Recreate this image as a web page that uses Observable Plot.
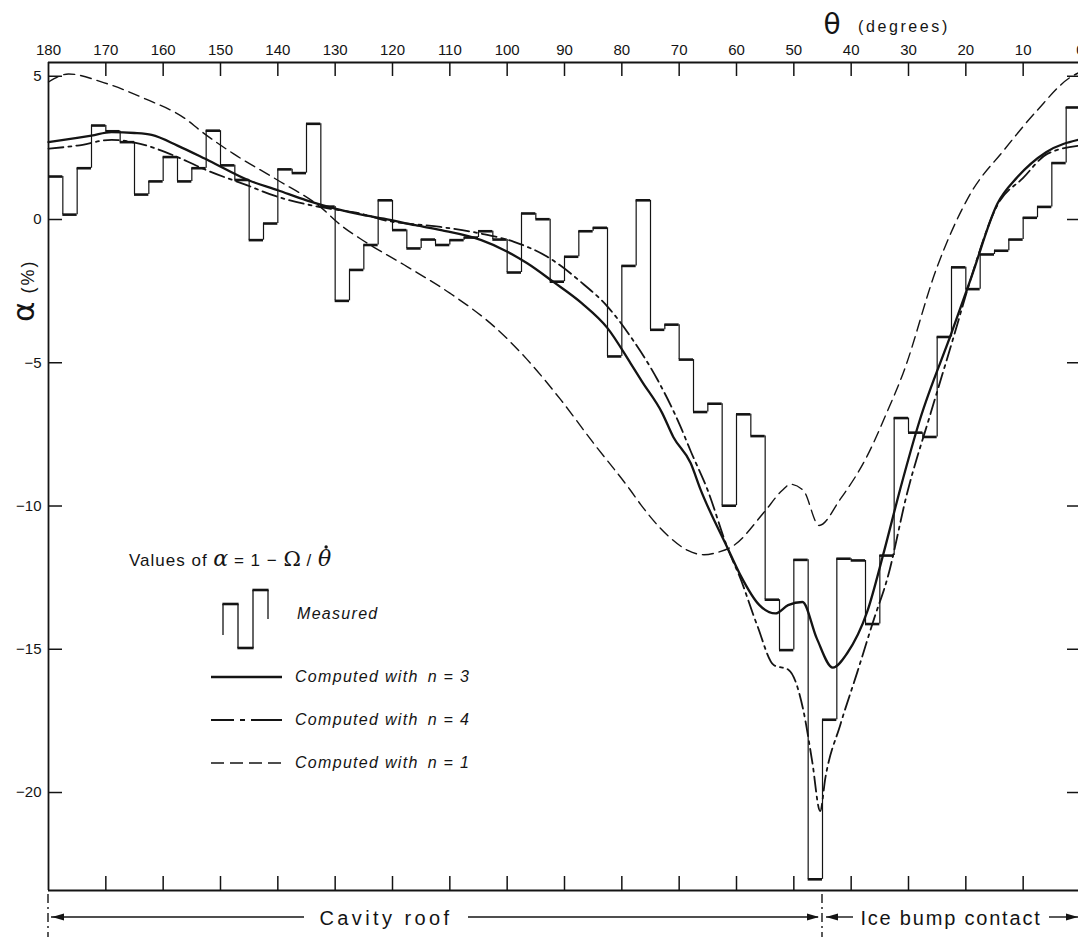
<!DOCTYPE html>
<html>
<head>
<meta charset="utf-8">
<script src="https://cdn.jsdelivr.net/npm/d3@7"></script>
<script src="https://cdn.jsdelivr.net/npm/@observablehq/plot@0.6"></script>
<style>
  html, body { margin: 0; padding: 0; background: #fff; }
  #chart { position: relative; width: 1078px; height: 937px; overflow: hidden; }
  #chart svg { display: block; }
</style>
</head>
<body>
<div id="chart"></div>
<script>
// ---------------- data ----------------
// measured alpha (%) in 2.5-degree bins, starting at theta = 180 and going to 0
const binStartTheta = 180;
const binWidthDeg = 2.5;
const measuredAlpha = [
  1.50, 0.17, 1.79, 3.28, 3.08, 2.70, 0.87, 1.33, 2.18, 1.33,
  1.79, 3.10, 1.89, 1.38, -0.72, -0.14, 1.75, 1.62, 3.34, 0.45,
  -2.84, -1.76, -0.89, 0.67, -0.37, -1.01, -0.70, -0.89, -0.72, -0.63,
  -0.41, -0.70, -1.85, 0.21, 0.01, -2.17, -1.30, -0.41, -0.29, -4.78,
  -1.62, 0.67, -3.85, -3.67, -4.89, -6.72, -6.43, -9.99, -6.80, -7.56,
  -13.27, -15.03, -11.88, -23.03, -17.46, -11.84, -11.90, -14.12, -11.73, -6.93,
  -7.44, -7.59, -4.10, -1.67, -2.43, -1.22, -1.09, -0.70, 0.06, 0.44,
  1.97, 3.91
];

// computed with n = 3 (solid)
const n3Theta = [180, 175, 172.5, 169, 165, 162, 157.5, 152, 145, 140, 135, 130, 125, 121.5, 116, 111.5,
  104.5, 100.5, 96.5, 92, 87, 82.5, 78.5, 76.5, 73, 71, 68, 66.3, 61.5, 59.3, 56, 53.2, 51, 48.5,
  46, 43.2, 40.7, 37.2, 34.3, 31.5, 28, 22.5, 19, 14.5, 11, 6, 0];
const n3Alpha = [2.70, 2.85, 2.93, 3.05, 3.02, 2.95, 2.58, 2.05, 1.36, 1.02, 0.67, 0.38, 0.15, 0.03, -0.20, -0.37,
  -0.72, -1.07, -1.53, -2.17, -2.92, -3.79, -5.01, -5.65, -6.74, -7.60, -8.50, -9.41, -11.49, -12.42, -13.46, -13.75, -13.46, -13.35,
  -14.62, -15.64, -15.14, -13.69, -11.61, -9.45, -6.98, -3.96, -1.99, 0.55, 1.48, 2.35, 2.80];

// computed with n = 4 (dash-dot)
const n4Theta = [180, 175, 169, 164, 157.5, 152.3, 145.3, 140, 135, 130, 125.6, 121.5, 111.6, 104.6, 98.8,
  93, 87.2, 82.5, 78.5, 73.7, 69.8, 68, 65.1, 61.5, 59.3, 56.4, 53.5, 50.9, 48.3, 46.8, 45.4, 44.5,
  41.9, 38.9, 36, 33.7, 30.2, 26.1, 22.1, 19.2, 14.5, 10, 5.8, 0];
const n4Alpha = [2.47, 2.58, 2.78, 2.64, 2.18, 1.71, 1.19, 0.79, 0.53, 0.35, 0.21, -0.02, -0.26, -0.49, -0.78,
  -1.30, -2.17, -3.04, -4.08, -5.62, -7.21, -8.08, -9.41, -11.50, -12.54, -14.16, -15.55, -15.72, -17.17, -18.91, -20.65, -19.49,
  -17.64, -15.78, -13.93, -12.54, -9.52, -6.74, -4.08, -2.11, 0.50, 1.45, 2.29, 2.58];

// computed with n = 1 (dashed)
const n1Theta = [180, 176.5, 170.4, 163, 156, 153.5, 147.7, 140, 132.6, 129, 125, 117.4, 110, 102.3, 96.5,
  90.7, 85, 78.5, 76.7, 72, 68.5, 65.7, 63, 60.5, 55.2, 52, 50.6, 48.3, 45.6, 41.9, 37.2, 33.7, 31,
  25, 19.2, 13.4, 7.6, 1.8, 0];
const n1Alpha = [4.80, 5.08, 4.78, 4.20, 3.50, 3.10, 2.29, 1.37, 0.44, -0.20, -0.75, -1.65, -2.57, -3.73, -4.89,
  -6.28, -7.79, -9.45, -9.95, -11.03, -11.55, -11.70, -11.60, -11.38, -10.22, -9.45, -9.24, -9.47, -10.68, -9.76, -8.25, -6.70, -5.40,
  -1.65, 0.90, 2.41, 3.80, 4.96, 5.15];

// axes
const thetaTicks = [180, 170, 160, 150, 140, 130, 120, 110, 100, 90, 80, 70, 60, 50, 40, 30, 20, 10, 0];
const alphaTicks = [5, 0, -5, -10, -15, -20];

// labels
const titleSymbol = "θ";
const titleUnit = "(degrees)";
const legendTitle = ["Values of ", "α", " = 1 − ", "Ω", " / ", "θ"];
const legendLabels = ["Measured", "Computed with", "Computed with", "Computed with"];
const legendN = ["", "n = 3", "n = 4", "n = 1"];
const regionLabels = ["Cavity roof", "Ice bump contact"];
const regionBoundaryTheta = 45;

// ---------------- derived tables ----------------
const bins = measuredAlpha.map((v, i) => ({
  t0: binStartTheta - binWidthDeg * i,
  t1: binStartTheta - binWidthDeg * (i + 1),
  v
}));
const risers = bins.slice(0, -1).map((b, i) => ({ t: b.t1, a: b.v, b: bins[i + 1].v }));
const toRows = (ts, as) => ts.map((t, i) => ({ t, a: as[i] }));
const n3 = toRows(n3Theta, n3Alpha);
const n4 = toRows(n4Theta, n4Alpha);
const n1 = toRows(n1Theta, n1Alpha);

// ---------------- layout ----------------
const W = 1078, H = 937;
const mTop = 62, mBottom = 47, mLeft = 48, xRight = 1080;
const innerH = H - mTop - mBottom;
const innerW = W - mLeft;
const yDomain = [-23.42, 5.48];
const ink = "#141414";

const chart = Plot.plot({
  width: W,
  height: H,
  marginTop: mTop,
  marginBottom: mBottom,
  marginLeft: mLeft,
  marginRight: 0,
  x: { domain: [180, 0], range: [mLeft, xRight] },
  y: { domain: yDomain },
  style: { fontFamily: "'Liberation Sans', Arial, sans-serif", fontSize: "15px", color: ink, background: "#fff", overflow: "hidden" },
  marks: [
    // frame lines (top, bottom, left)
    Plot.ruleY([yDomain[1]], { stroke: ink, strokeWidth: 1.8 }),
    Plot.ruleY([yDomain[0]], { stroke: ink, strokeWidth: 1.8 }),
    Plot.ruleX([180], { stroke: ink, strokeWidth: 1.8 }),
    // axes labels
    Plot.axisX(thetaTicks, { anchor: "top", tickSize: 0, tickPadding: 8, label: null, tickFormat: d => String(d), fontSize: 15 }),
    Plot.axisY(alphaTicks, { anchor: "left", tickSize: 0, tickPadding: 7, label: null, fontSize: 15 }),
    // inward ticks
    Plot.tickX(thetaTicks.slice(1, -1), { x: d => d, insetBottom: innerH - 14, stroke: ink, strokeWidth: 1.5 }),
    Plot.tickX(thetaTicks.slice(1, -1), { x: d => d, insetTop: innerH - 14, stroke: ink, strokeWidth: 1.5 }),
    Plot.tickY(alphaTicks, { y: d => d, insetRight: innerW - 14, stroke: ink, strokeWidth: 1.5 }),
    Plot.tickY(alphaTicks, { y: d => d, insetLeft: innerW - 11, stroke: ink, strokeWidth: 1.5 }),
    // measured histogram
    Plot.ruleX(risers, { x: "t", y1: "a", y2: "b", stroke: ink, strokeWidth: 1.2 }),
    Plot.ruleY(bins, { y: "v", x1: "t0", x2: "t1", stroke: ink, strokeWidth: 2.6 }),
    // computed curves
    Plot.line(n1, { x: "t", y: "a", curve: "monotone-x", stroke: ink, strokeWidth: 1.4, strokeDasharray: "11,6" }),
    Plot.line(n4, { x: "t", y: "a", curve: "monotone-x", stroke: ink, strokeWidth: 1.8, strokeDasharray: "15,5,3,5" }),
    Plot.line(n3, { x: "t", y: "a", curve: "monotone-x", stroke: ink, strokeWidth: 2.3 })
  ]
});

document.getElementById("chart").appendChild(chart);

// ---------------- annotations ----------------
const xs = d3.scaleLinear([180, 0], [mLeft, xRight]);
const svg = d3.select(chart);
const g = svg.append("g")
  .attr("fill", ink)
  .attr("text-anchor", "start")
  .style("font-family", "'Liberation Sans', Arial, sans-serif");

// top title
g.append("text").attr("x", 832).attr("y", 34).attr("text-anchor", "middle")
  .style("font-family", "'DejaVu Sans', sans-serif").style("font-size", "28px").text(titleSymbol);
g.append("text").attr("x", 858).attr("y", 32).attr("text-anchor", "start")
  .style("font-size", "16px").style("letter-spacing", "2.6px").text(titleUnit);

// y-axis label
const yl = g.append("text").attr("text-anchor", "start").attr("transform", "translate(34,322) rotate(-90)");
yl.append("tspan").style("font-family", "'DejaVu Sans', sans-serif").style("font-size", "31px").text("α");
yl.append("tspan").attr("dx", 8).style("font-size", "18px").style("letter-spacing", "2px").text("(%)");

// legend heading
const lt = g.append("text").attr("text-anchor", "start").attr("x", 129).attr("y", 566).style("font-size", "17px");
lt.append("tspan").style("letter-spacing", "1px").text(legendTitle[0]);
lt.append("tspan").style("font-family", "'DejaVu Serif', serif").style("font-style", "italic").style("font-size", "22px").text(legendTitle[1]);
lt.append("tspan").style("font-size", "17px").style("letter-spacing", "1px").text(legendTitle[2]);
lt.append("tspan").style("font-family", "'DejaVu Serif', serif").style("font-size", "21px").text(legendTitle[3]);
lt.append("tspan").style("font-size", "17px").style("letter-spacing", "1px").text(legendTitle[4]);
const thetaSpan = lt.append("tspan").style("font-family", "'DejaVu Serif', serif").style("font-style", "italic").style("font-size", "22px").text(legendTitle[5]);
// dot above theta (time derivative)
{
  const node = lt.node();
  const n = node.getNumberOfChars();
  let cx = 320, top = 548;
  try {
    const ext = node.getExtentOfChar(n - 1);
    cx = ext.x + ext.width / 2 + 1.5;
    top = ext.y + 1;
  } catch (e) {}
  g.append("circle").attr("cx", cx).attr("cy", top).attr("r", 1.7).attr("fill", ink);
}

// legend: measured step icon
const stepThin = [[223, 635, 223, 604], [238, 604, 238, 648], [253, 648, 253, 590], [268, 590, 268, 619]];
const stepThick = [[223, 604, 238, 604], [238, 648, 253, 648], [253, 590, 268, 590]];
stepThin.forEach(s => g.append("line").attr("x1", s[0]).attr("y1", s[1]).attr("x2", s[2]).attr("y2", s[3])
  .attr("stroke", ink).attr("stroke-width", 1.3));
stepThick.forEach(s => g.append("line").attr("x1", s[0] - 0.6).attr("y1", s[1]).attr("x2", s[2] + 0.6).attr("y2", s[3])
  .attr("stroke", ink).attr("stroke-width", 2.6));

const legendY = [619, 677, 720, 763];
const legendStyles = [null, { w: 2.3, dash: null }, { w: 1.8, dash: "23,6,5,6,40" }, { w: 1.5, dash: "13,6" }];
legendLabels.forEach((lab, i) => {
  const y = legendY[i];
  if (legendStyles[i]) {
    const st = legendStyles[i];
    const ln = g.append("line").attr("x1", 211).attr("x2", 282).attr("y1", y).attr("y2", y)
      .attr("stroke", ink).attr("stroke-width", st.w);
    if (st.dash) ln.attr("stroke-dasharray", st.dash);
  }
  const t = g.append("text").attr("text-anchor", "start").attr("x", i === 0 ? 297 : 295).attr("y", i === 0 ? y : y + 5)
    .style("font-size", "16px").style("font-style", "italic").style("letter-spacing", "1.3px");
  t.append("tspan").text(lab);
  if (legendN[i]) t.append("tspan").attr("dx", 9).text(legendN[i]);
});

// bottom region annotation
const yRow = 917;
const xL = xs(180), xB = xs(regionBoundaryTheta);
[xL, xB].forEach(x => g.append("line").attr("x1", x).attr("x2", x).attr("y1", 894).attr("y2", 937)
  .attr("stroke", ink).attr("stroke-width", 1.4).attr("stroke-dasharray", "9,4,2,4"));

function hline(x1, x2) {
  g.append("line").attr("x1", x1).attr("x2", x2).attr("y1", yRow).attr("y2", yRow)
    .attr("stroke", ink).attr("stroke-width", 1.4);
}
function arrow(xTip, dir) {
  g.append("path").attr("d", `M${xTip},${yRow} L${xTip - dir * 12},${yRow - 3.5} L${xTip - dir * 12},${yRow + 3.5} Z`)
    .attr("fill", ink);
}
hline(xL + 3, 304); arrow(xL + 4, -1);
hline(468, xB - 4); arrow(xB - 3, 1);
hline(xB + 4, 853); arrow(xB + 4, -1);
hline(1049, 1078); arrow(1078, 1);

g.append("text").attr("x", 386).attr("y", yRow + 8).attr("text-anchor", "middle")
  .style("font-size", "20px").style("letter-spacing", "3.4px").text(regionLabels[0]);
g.append("text").attr("x", 951).attr("y", yRow + 8).attr("text-anchor", "middle")
  .style("font-size", "20px").style("letter-spacing", "1.8px").text(regionLabels[1]);
</script>
</body>
</html>
